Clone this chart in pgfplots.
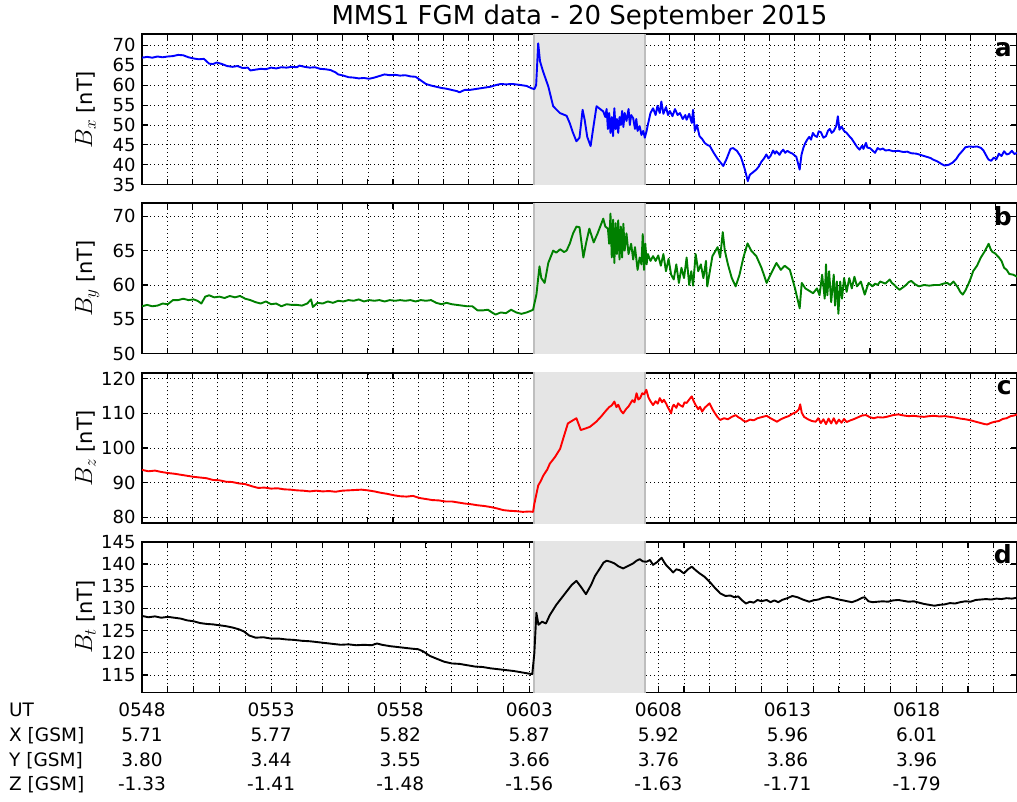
\documentclass[border=0pt]{standalone}
\usepackage{pgfplots}
\pgfplotsset{compat=1.18}
\usepackage{fontspec}
\setmainfont{DejaVu Sans}
\definecolor{shadefill}{RGB}{229,229,229}
\definecolor{shadeedge}{RGB}{190,190,190}
\definecolor{mplgreen}{RGB}{0,128,0}
\newcommand{\tickfont}{\fontsize{18}{20}\selectfont}
\newcommand{\tabfont}{\fontsize{18.5}{20}\selectfont}
\newcommand{\ylab}[1]{{\fontsize{25}{25}\selectfont$B_{#1}$}\hspace{0.6em}{\fontsize{21}{22}\selectfont[nT]}}
\tikzset{
  myshade/.style={on layer=axis background, fill=shadefill, draw=shadeedge, line width=2pt},
  myletter/.style={anchor=base east, font=\fontsize{25}{25}\selectfont\bfseries, xshift=-5pt, yshift=-22pt, inner sep=0pt},
  mycurve/.style={line width=1.9pt, line join=round},
}
\begin{document}
\begin{tikzpicture}
\pgfplotsset{
  panel/.style={
    scale only axis, width=875pt, height=150.5pt, anchor=south west,
    xmin=0, xmax=33.9, set layers, clip=true,
    axis line style={line width=1.6pt, black},
    tick align=inside, major tick length=6pt,
    every tick/.style={line width=1.1pt, black},
    grid=major,
    major grid style={line width=0.8pt, black, dash pattern=on 1pt off 3pt},
    xticklabels={,,},
    yticklabel style={font=\tickfont, xshift=-3pt},
    /pgf/number format/assume math mode=true,
    every axis y label/.style={at={(axis description cs:-0.057,0.5)}, rotate=90, anchor=base},
  },
  upper/.style={xtick={0.9725,1.945,2.9175,3.89,4.8625,5.835,6.8075,7.78,8.7525,9.725,10.6975,11.67,12.6425,13.615,14.5875,15.56,16.5325,17.505,18.4775,19.45,20.4225,21.395,22.3675,23.34,24.3125,25.285,26.2575,27.23,28.2025,29.175,30.1475,31.12,32.0925,33.065}},
}

% ---------------- panel a : Bx
\begin{axis}[panel, upper, at={(142pt,616.3pt)}, ymin=35, ymax=72.8,
  ytick={35,40,...,70}, ylabel={\ylab{x}}]
\addplot[myshade] coordinates {(15.17,0) (15.17,200) (19.5,200) (19.5,0)};
\addplot[mycurve, blue] coordinates {
(0,66.9) (0.2,67.1) (0.4,66.9) (0.6,67.2) (0.8,67.0) (1.0,67.2) (1.2,67.3) (1.4,67.6) (1.6,67.5) (1.8,67.0) (2.0,66.7) (2.2,66.5) (2.4,66.6) (2.6,65.4) (2.75,65.3) (2.9,65.7) (3.1,65.3) (3.3,64.8) (3.5,64.6) (3.7,64.8) (3.9,64.3) (4.1,64.4) (4.2,63.7) (4.4,63.9) (4.6,64.1) (4.8,64.0) (5.0,64.4) (5.2,64.2) (5.4,64.5) (5.6,64.4) (5.8,64.6) (6.0,64.5) (6.1,64.9) (6.3,64.6) (6.5,64.4) (6.7,64.5) (6.9,64.1) (7.1,64.0) (7.3,63.8) (7.5,63.2) (7.6,62.7) (7.8,62.4) (8.0,62.0) (8.2,61.9) (8.4,61.7) (8.6,61.8) (8.8,61.6) (9.0,61.9) (9.2,62.3) (9.4,62.7) (9.6,62.5) (9.8,62.6) (10.0,62.4) (10.2,62.5) (10.4,62.2) (10.6,62.1) (10.8,61.2) (11.0,60.3) (11.2,59.9) (11.4,59.6) (11.6,59.3) (11.8,59.1) (12.0,58.8) (12.2,58.5) (12.3,58.2) (12.5,58.8) (12.7,58.8) (12.9,59.0) (13.1,59.2) (13.3,59.4) (13.5,59.6) (13.7,60.0) (13.9,60.3) (14.1,60.2) (14.35,60.3) (14.6,60.1) (14.9,59.8) (15.1,59.2) (15.2,59.0)
(15.27,60) (15.35,70.5) (15.42,66.0) (15.54,63.4) (15.74,59.7) (15.93,54.7) (16.19,53.0) (16.45,52.3) (16.57,50.5) (16.7,48) (16.83,45.9) (16.95,46.8) (17.07,53.8) (17.15,51.3) (17.25,47) (17.38,44.7) (17.5,50) (17.61,54.7) (17.75,54) (17.87,53.4)
(17.95,52) (18.0,54) (18.05,49) (18.1,53) (18.15,48) (18.2,52) (18.25,47.2) (18.3,54.2) (18.35,49) (18.4,51.5) (18.45,48) (18.5,52) (18.55,50) (18.6,53.5) (18.65,49.5) (18.7,53) (18.77,51) (18.85,54) (18.9,50) (18.95,52.5) (19.03,51.7) (19.1,49) (19.15,51.5) (19.2,48.5) (19.28,49.7) (19.35,47.5) (19.42,48.5) (19.48,46.8) (19.55,48.5) (19.6,50.1) (19.7,53) (19.8,54.2) (19.9,52.5) (19.97,54.8) (20.06,53.0) (20.12,55.9) (20.2,52.8) (20.3,54.5) (20.38,52.5) (20.45,53.5) (20.55,52.2) (20.65,54) (20.75,52.5) (20.84,53) (20.95,51.5) (21.05,52.5) (21.1,51.3) (21.2,52.8) (21.3,50.5) (21.35,53.8) (21.42,48.5) (21.5,50) (21.6,47.2) (21.7,46.5) (21.8,45.5) (21.9,45) (22.0,44.7) (22.15,43) (22.3,41.5) (22.52,39.7) (22.65,41.5) (22.8,44) (22.9,44.2) (23.05,43.5) (23.2,42) (23.35,39) (23.47,35.9) (23.55,37.5) (23.65,38) (23.8,38.8) (23.9,39.6) (24.0,40.8) (24.1,41.6) (24.19,42.6) (24.27,41.6) (24.35,42.2) (24.45,43.6) (24.52,42.8) (24.58,43.4) (24.7,42.5) (24.77,43.3) (24.84,43.8) (24.92,43.0) (25.0,43.5) (25.1,43.1) (25.2,42.8) (25.35,42) (25.48,38.8) (25.55,42.5) (25.62,44.2) (25.7,45.5) (25.78,46.4) (25.85,47) (25.92,46.3) (25.99,48) (26.07,47.3) (26.15,47) (26.22,48.4) (26.3,48.2) (26.4,46.8) (26.5,47.2) (26.58,48.6) (26.65,49) (26.72,48.0) (26.8,48.5) (26.9,49.8) (26.96,52.2) (27.02,48.8) (27.1,49.6) (27.2,48.5) (27.3,48.0) (27.4,47.2) (27.5,46.5) (27.6,45.5) (27.7,44.5) (27.8,43.8) (27.9,44.8) (27.95,44.0) (28.05,45.5) (28.1,44.3) (28.2,44.2) (28.3,43.6) (28.4,43) (28.5,44.2) (28.6,43.8) (28.7,44.1) (28.8,43.6) (28.95,43.7) (29.1,43.4) (29.3,43.5) (29.5,43.2) (29.65,43.3) (29.8,42.9) (30.0,42.8) (30.1,42.6) (30.25,42.3) (30.4,42) (30.55,41.7) (30.65,41.3) (30.8,40.9) (30.9,40.5) (31.0,40.1) (31.1,39.8) (31.25,40.0) (31.4,40.5) (31.55,41.5) (31.65,42.5) (31.8,43.6) (31.9,44.4) (32.05,44.6) (32.2,44.5) (32.35,44.6) (32.5,44.25) (32.6,43.6) (32.65,43) (32.75,41.8) (32.8,41.3) (32.9,41.0) (33.0,41.8) (33.1,41.4) (33.2,42.8) (33.3,42.2) (33.4,43.4) (33.5,42.6) (33.6,42.8) (33.7,43.5) (33.8,42.7) (33.9,43)
};
\node[myletter] at (rel axis cs:1,1) {a};
\end{axis}

% ---------------- panel b : By
\begin{axis}[panel, upper, at={(142pt,447.3pt)}, ymin=50, ymax=71.9,
  ytick={50,55,...,70}, ylabel={\ylab{y}}]
\addplot[myshade] coordinates {(15.17,0) (15.17,200) (19.5,200) (19.5,0)};
\addplot[mycurve, mplgreen] coordinates {
(0,56.9) (0.2,57.1) (0.4,56.9) (0.6,57.0) (0.8,57.3) (1.0,57.2) (1.2,57.8) (1.4,57.8) (1.6,58.0) (1.8,57.8) (2.0,57.9) (2.15,57.7) (2.3,57.3) (2.45,58.3) (2.6,58.5) (2.8,58.2) (3.0,58.3) (3.2,58.1) (3.4,58.4) (3.6,58.2) (3.8,58.4) (4.0,58.0) (4.2,57.8) (4.4,57.5) (4.6,57.3) (4.8,57.6) (5.0,57.2) (5.2,57.3) (5.4,56.9) (5.6,57.2) (5.8,57.1) (6.0,57.1) (6.2,57.0) (6.4,57.3) (6.55,57.9) (6.62,56.8) (6.8,57.4) (7.0,57.3) (7.2,57.6) (7.4,57.4) (7.6,57.7) (7.8,57.6) (8.0,57.8) (8.2,57.7) (8.4,57.9) (8.6,57.6) (8.8,57.8) (9.0,57.7) (9.2,57.8) (9.4,57.6) (9.6,57.8) (9.8,57.7) (10.0,57.8) (10.2,57.7) (10.4,57.8) (10.6,57.6) (10.8,57.8) (11.0,57.7) (11.2,57.8) (11.4,57.4) (11.6,57.2) (11.8,57.4) (12.0,57.2) (12.2,57.1) (12.4,57.0) (12.6,56.9) (12.8,56.9) (13.0,56.3) (13.2,56.3) (13.4,56.4) (13.6,55.9) (13.7,55.7) (13.9,56.0) (14.1,55.9) (14.3,56.4) (14.5,56.0) (14.7,55.8) (14.9,56.0) (15.1,56.3) (15.15,56.4)
(15.28,58.6) (15.4,62.7) (15.47,61) (15.6,60.3) (15.74,63.2) (15.93,65) (16.05,64.7) (16.2,65.2) (16.35,64.8) (16.45,65) (16.57,66) (16.7,67.5) (16.83,68.5) (16.95,68.4) (17.1,64) (17.2,66) (17.33,68.2) (17.5,66.2) (17.65,67.5) (17.87,69.65) (17.95,68.5) (18.05,68.2)
(18.1,66) (18.15,70.4) (18.2,64) (18.25,69.5) (18.3,63.2) (18.35,69) (18.4,64.5) (18.45,69.4) (18.5,63.7) (18.55,68.5) (18.6,64) (18.65,68.9) (18.7,65) (18.77,67.5) (18.85,64.5) (18.95,66) (19.03,63.7) (19.1,65.5) (19.2,62.2) (19.28,64) (19.35,63) (19.4,67.4) (19.45,62.2) (19.5,66) (19.55,63) (19.6,64.5) (19.7,63.5) (19.8,64.2) (19.9,63.5) (20.0,64.3) (20.1,62.8) (20.2,64.5) (20.3,62) (20.4,63.8) (20.5,61.5) (20.6,60.8) (20.7,63) (20.8,60.3) (20.9,62.5) (21.0,61) (21.1,64) (21.2,60) (21.28,62) (21.35,59.9) (21.45,64.5) (21.55,62) (21.65,63) (21.75,61) (21.85,63.5) (21.9,59.8) (22.0,62) (22.1,64.2) (22.3,65.5) (22.4,64) (22.5,67.7) (22.58,65) (22.7,63) (22.85,61) (23.0,59.8) (23.15,61.5) (23.3,64) (23.46,66.05) (23.6,65) (23.8,64.2) (24.0,62.5) (24.2,60.3) (24.35,61.5) (24.58,63.2) (24.75,62.2) (24.9,62.8) (25.1,62.2) (25.3,59.5) (25.48,56.6) (25.56,60.3) (25.7,59.5) (26.0,58.8) (26.15,59.5) (26.25,58.5) (26.35,61.5) (26.45,58) (26.5,63) (26.55,58.5) (26.62,62) (26.7,57.5) (26.8,61.5) (26.85,57) (26.92,60.5) (26.98,55.8) (27.05,60.5) (27.12,58) (27.2,61) (27.3,59) (27.4,61) (27.5,59.5) (27.6,61.2) (27.7,59.8) (27.85,60.5) (28.0,58.6) (28.15,60.3) (28.3,59.8) (28.4,60.2) (28.5,60.0) (28.6,60.5) (28.8,60.2) (28.97,60.8) (29.05,60.3) (29.15,60.0) (29.25,59.6) (29.35,59.3) (29.5,59.7) (29.6,60.0) (29.7,60.4) (29.8,60.6) (29.95,60.1) (30.1,59.8) (30.3,60.0) (30.5,59.9) (30.7,60.0) (30.9,60.0) (31.05,60.2) (31.2,60.3) (31.3,60.0) (31.44,60.5) (31.52,60.1) (31.6,59.7) (31.7,59.0) (31.8,58.6) (31.9,59.2) (32.0,60) (32.1,60.9) (32.2,62) (32.35,62.8) (32.5,64) (32.65,64.9) (32.8,66) (32.88,65.2) (32.95,64.8) (33.05,64.6) (33.2,64) (33.3,63.5) (33.4,62.5) (33.5,62.2) (33.6,61.6) (33.75,61.5) (33.9,61.2)
};
\node[myletter] at (rel axis cs:1,1) {b};
\end{axis}

% ---------------- panel c : Bz
\begin{axis}[panel, upper, at={(142pt,277.7pt)}, ymin=78.3, ymax=121.7,
  ytick={80,90,...,120}, ylabel={\ylab{z}}]
\addplot[myshade] coordinates {(15.17,0) (15.17,300) (19.5,300) (19.5,0)};
\addplot[mycurve, red] coordinates {
(0,93.7) (0.25,93.3) (0.5,93.5) (0.75,93.1) (1.0,92.8) (1.25,92.6) (1.5,92.3) (1.75,92.0) (2.0,91.7) (2.25,91.5) (2.5,91.3) (2.75,90.8) (3.0,90.7) (3.25,90.3) (3.5,90.2) (3.75,89.8) (4.0,89.6) (4.25,89.0) (4.5,88.5) (4.75,88.6) (5.0,88.3) (5.25,88.4) (5.5,88.1) (5.75,88.0) (6.0,87.8) (6.25,87.7) (6.5,87.5) (6.75,87.7) (7.0,87.5) (7.25,87.6) (7.5,87.4) (7.75,87.7) (8.0,87.8) (8.25,87.9) (8.5,88.0) (8.75,87.8) (9.0,87.5) (9.25,87.1) (9.5,86.8) (9.75,86.4) (10.0,86.1) (10.25,86.0) (10.5,86.2) (10.75,85.6) (11.0,85.3) (11.25,85.0) (11.5,84.9) (11.75,84.6) (12.0,84.6) (12.25,84.3) (12.5,84.0) (12.75,83.8) (13.0,83.5) (13.25,83.3) (13.5,83.0) (13.75,82.6) (14.0,82.1) (14.25,81.9) (14.5,81.8) (14.75,81.6) (15.0,81.7) (15.15,81.6)
(15.2,83.9) (15.35,89.2) (15.45,90.5) (15.55,92.1) (15.7,93.8) (15.8,95.5) (16.0,97.4) (16.2,99.8) (16.35,103.5) (16.5,107.1) (16.65,107.8) (16.83,108.6) (17.0,105.2) (17.2,105.7) (17.35,106.1) (17.6,107.6) (17.8,109.2) (18.0,111) (18.1,111.8) (18.2,112.3) (18.3,113.4) (18.38,111.8) (18.45,112.5) (18.55,110.8) (18.64,110) (18.75,111.2) (18.85,112) (19.0,113.8) (19.08,113.2) (19.16,115.8) (19.23,114.0) (19.3,114.4) (19.38,115.8) (19.45,115.5) (19.54,116.8) (19.62,114.6) (19.7,113.5) (19.8,112.4) (19.9,113.5) (19.98,112.8) (20.06,114.4) (20.15,113.2) (20.22,113.9) (20.3,112.9) (20.4,111.4) (20.5,110) (20.55,111.8) (20.6,112.5) (20.7,111.6) (20.77,112.9) (20.84,112.4) (20.95,111.9) (21.02,113.2) (21.1,113) (21.2,114.0) (21.3,114.9) (21.38,113.4) (21.45,112.4) (21.55,111.2) (21.62,111.9) (21.7,110.5) (21.8,111.6) (21.9,112.3) (21.99,112.9) (22.1,111.2) (22.2,110) (22.3,108.9) (22.4,108.1) (22.55,108.6) (22.7,108.3) (22.85,109.0) (23.0,109.5) (23.1,108.9) (23.2,108.5) (23.3,107.9) (23.4,107.6) (23.55,108.2) (23.7,108.0) (23.85,108.6) (24.0,108.9) (24.2,109.3) (24.35,108.6) (24.5,108.0) (24.6,107.6) (24.75,108.3) (24.9,108.8) (25.05,109.2) (25.2,109.9) (25.35,110.4) (25.45,111.2) (25.5,112.6) (25.56,110.2) (25.65,109.0) (25.8,108.3) (25.95,107.8) (26.1,107.6) (26.2,108.6) (26.3,107.2) (26.4,108.3) (26.5,106.9) (26.6,108.5) (26.7,107.1) (26.8,108.6) (26.9,107.0) (27.0,108.2) (27.1,107.3) (27.2,108.4) (27.3,107.5) (27.45,108.0) (27.6,108.4) (27.75,108.9) (27.9,109.4) (28.05,109.5) (28.2,108.9) (28.35,108.6) (28.5,108.9) (28.7,108.8) (28.9,109.1) (29.1,109.5) (29.3,109.7) (29.5,109.4) (29.7,109.2) (29.9,109.3) (30.1,109.1) (30.3,109.0) (30.5,109.2) (30.7,109.3) (30.9,109.1) (31.1,109.2) (31.3,109.0) (31.5,108.8) (31.7,108.5) (31.9,108.3) (32.1,108.0) (32.3,107.6) (32.5,107.2) (32.65,106.9) (32.75,106.8) (32.9,107.3) (33.05,107.6) (33.2,107.8) (33.35,108.4) (33.5,108.6) (33.65,109.2) (33.8,109.4) (33.9,109.7)
};
\node[myletter] at (rel axis cs:1,1) {c};
\end{axis}

% ---------------- panel d : Bt
\begin{axis}[panel, at={(142pt,108.7pt)}, ymin=111.1, ymax=145,
  xtick={0,1,...,33}, ytick={115,120,...,145}, ylabel={\ylab{t}}]
\addplot[myshade] coordinates {(15.17,0) (15.17,300) (19.5,300) (19.5,0)};
\addplot[mycurve, black] coordinates {
(0,128.3) (0.25,128.0) (0.5,128.2) (0.75,127.9) (1.0,128.1) (1.25,127.9) (1.5,127.7) (1.75,127.3) (2.0,127.1) (2.25,126.7) (2.5,126.5) (2.75,126.4) (3.0,126.2) (3.25,126.0) (3.5,125.7) (3.75,125.3) (3.95,124.8) (4.15,123.9) (4.4,123.4) (4.7,123.5) (5.0,123.2) (5.3,123.2) (5.6,123.0) (5.9,122.9) (6.2,122.7) (6.5,122.6) (6.8,122.4) (7.1,122.2) (7.4,122.0) (7.7,121.8) (8.0,121.9) (8.3,121.7) (8.6,121.8) (8.9,121.7) (9.1,122.1) (9.3,121.8) (9.6,121.5) (9.9,121.3) (10.2,121.1) (10.5,120.9) (10.7,120.8) (10.9,120.3) (11.15,119.3) (11.4,118.7) (11.7,118.0) (12.0,117.6) (12.3,117.5) (12.6,117.2) (12.9,116.9) (13.2,116.8) (13.5,116.5) (13.8,116.3) (14.1,116.1) (14.4,115.9) (14.7,115.6) (15.0,115.3) (15.12,115.2)
(15.2,119.9) (15.28,129.0) (15.36,126.3) (15.5,127) (15.65,126.6) (15.8,128.5) (16.05,130.8) (16.25,132.3) (16.45,133.8) (16.65,135.3) (16.83,136.2) (17.0,134.9) (17.2,133.2) (17.4,135.3) (17.55,137.3) (17.74,139) (17.88,140.3) (18.0,140.75) (18.15,140.5) (18.3,140.15) (18.45,139.5) (18.64,139) (18.85,139.6) (19.03,140.15) (19.15,140.7) (19.28,141.1) (19.4,140.6) (19.54,140.5) (19.68,140.9) (19.8,139.8) (19.95,140.4) (20.13,141.4) (20.22,140.5) (20.3,139.8) (20.45,138.9) (20.58,138.1) (20.7,138.8) (20.84,138.6) (20.92,138.2) (21.0,137.9) (21.15,138.8) (21.3,139.4) (21.45,138.6) (21.6,137.9) (21.8,137.1) (21.99,136) (22.2,134.6) (22.4,133.4) (22.6,132.8) (22.8,132.9) (22.95,132.5) (23.1,132.7) (23.25,131.8) (23.4,131.1) (23.55,131.5) (23.7,131.3) (23.85,131.9) (24.0,131.6) (24.2,131.9) (24.35,131.4) (24.5,131.8) (24.65,131.4) (24.8,131.9) (25.0,132.3) (25.2,132.8) (25.4,132.5) (25.6,132.0) (25.85,131.5) (26.0,131.8) (26.2,132.0) (26.4,132.4) (26.6,132.6) (26.8,132.3) (27.0,132.0) (27.25,131.7) (27.5,131.4) (27.7,131.8) (27.9,132.4) (28.0,132.5) (28.15,131.6) (28.3,131.4) (28.5,131.5) (28.7,131.6) (28.9,131.5) (29.1,131.8) (29.3,131.9) (29.5,131.7) (29.7,131.5) (29.9,131.6) (30.1,131.3) (30.3,131.0) (30.5,130.8) (30.7,130.6) (30.9,130.8) (31.1,130.9) (31.3,131.2) (31.5,131.1) (31.7,131.4) (31.9,131.6) (32.1,131.5) (32.3,131.9) (32.5,132.0) (32.7,132.1) (32.9,132.0) (33.1,132.2) (33.3,132.1) (33.5,132.3) (33.7,132.2) (33.9,132.4)
};
\node[myletter] at (rel axis cs:1,1) {d};
\end{axis}

% ---------------- title
\node[anchor=base, font=\fontsize{26}{26}\selectfont, inner sep=0pt] at (579.5pt,776pt) {MMS1 FGM data - 20 September 2015};

% ---------------- ephemeris table
\foreach \lab/\yy in {UT/85, X [GSM]/59.4, Y [GSM]/35, Z [GSM]/10.4}
  \node[anchor=base west, font=\tabfont, inner sep=0pt] at (9pt,\yy pt) {\lab};
\foreach \m/\t/\xa/\ya/\za in {0/0548/5.71/3.80/-1.33, 5/0553/5.77/3.44/-1.41, 10/0558/5.82/3.55/-1.48, 15/0603/5.87/3.66/-1.56, 20/0608/5.92/3.76/-1.63, 25/0613/5.96/3.86/-1.71, 30/0618/6.01/3.96/-1.79}{
  \node[anchor=base, font=\tabfont, inner sep=0pt] at ({142pt+\m*25.82pt},85pt) {\t};
  \node[anchor=base, font=\tabfont, inner sep=0pt] at ({142pt+\m*25.82pt},59.4pt) {\xa};
  \node[anchor=base, font=\tabfont, inner sep=0pt] at ({142pt+\m*25.82pt},35pt) {\ya};
  \node[anchor=base, font=\tabfont, inner sep=0pt] at ({142pt+\m*25.82pt},10.4pt) {\za};
}
\pgfresetboundingbox
\useasboundingbox (0,0) rectangle (1017pt,801pt);
\end{tikzpicture}
\end{document}
